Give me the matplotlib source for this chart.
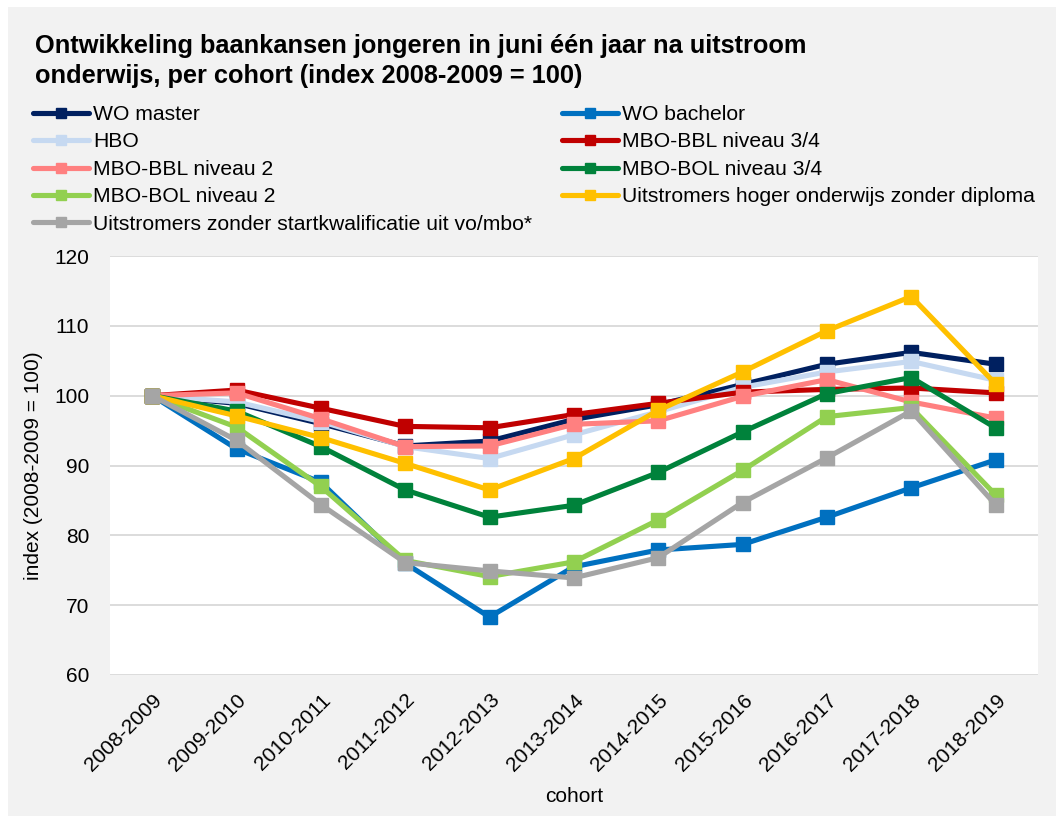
import numpy as np
import matplotlib.pyplot as plt
from matplotlib.lines import Line2D
from matplotlib.patches import Rectangle

cohorts = ['2008-2009', '2009-2010', '2010-2011', '2011-2012', '2012-2013', '2013-2014',
           '2014-2015', '2015-2016', '2016-2017', '2017-2018', '2018-2019']

wo_master = [100, 98.9, 96.0, 92.8, 93.5, 96.6, 98.7, 101.6, 104.5, 106.2, 104.5]
wo_bachelor = [100, 92.4, 87.6, 76.0, 68.3, 75.5, 77.9, 78.7, 82.6, 86.8, 90.8]
hbo = [100, 99.1, 96.3, 92.7, 91.0, 94.4, 97.7, 101.2, 103.4, 104.9, 102.2]
mbo_bbl_34 = [100, 100.8, 98.2, 95.6, 95.4, 97.3, 98.9, 100.5, 100.9, 101.1, 100.4]
mbo_bbl_2 = [100, 100.4, 96.7, 92.7, 92.8, 95.9, 96.4, 99.9, 102.3, 99.1, 96.8]
mbo_bol_34 = [100, 97.8, 92.7, 86.5, 82.6, 84.3, 89.0, 94.8, 100.3, 102.6, 95.4]
mbo_bol_2 = [100, 95.5, 87.0, 76.4, 74.1, 76.2, 82.2, 89.3, 97.0, 98.3, 85.8]
ho_zonder_diploma = [100, 97.1, 94.0, 90.3, 86.5, 91.0, 97.9, 103.4, 109.3, 114.2, 101.7]
zonder_startkwal = [100, 93.6, 84.4, 76.1, 74.9, 73.9, 76.8, 84.7, 91.1, 97.8, 84.4]

series = [
    ('WO master', wo_master, '#002060'),
    ('WO bachelor', wo_bachelor, '#0070C0'),
    ('HBO', hbo, '#C6D9F1'),
    ('MBO-BBL niveau 3/4', mbo_bbl_34, '#C00000'),
    ('MBO-BBL niveau 2', mbo_bbl_2, '#FF8080'),
    ('MBO-BOL niveau 3/4', mbo_bol_34, '#00823B'),
    ('MBO-BOL niveau 2', mbo_bol_2, '#92D050'),
    ('Uitstromers hoger onderwijs zonder diploma', ho_zonder_diploma, '#FFC000'),
    ('Uitstromers zonder startkwalificatie uit vo/mbo*', zonder_startkwal, '#A5A5A5'),
]

plt.rcParams['font.family'] = ['Liberation Sans', 'DejaVu Sans']

W, H = 1056, 816
fig = plt.figure(figsize=(W / 100, H / 100), dpi=100, facecolor='white')
fig.add_artist(Rectangle((8 / W, 0), 1, 1 - 7 / H, transform=fig.transFigure,
                         facecolor='#F2F2F2', edgecolor='none', zorder=-10))

ax = fig.add_axes([110 / W, 1 - 675 / H, 927.7 / W, 419 / H])
ax.set_facecolor('white')

x = np.arange(len(cohorts))
handles = {}
for name, vals, col in series:
    ax.plot(x, vals, color=col, lw=3.7, marker='s', ms=10, label=name,
            solid_joinstyle='round')
    handles[name] = Line2D([], [], color=col, lw=3.7, marker='s', ms=7,
                           solid_capstyle='round')

ax.set_xlim(-0.5, len(cohorts) - 0.5)
ax.set_ylim(60, 120)
ax.set_yticks(np.arange(60, 121, 10))
ax.grid(axis='y', color='#D9D9D9', lw=1.3)
ax.set_axisbelow(True)
for s in ax.spines.values():
    s.set_visible(False)

ax.set_xticks(x)
ax.set_xticklabels(cohorts, rotation=45, ha='right', rotation_mode='anchor')
ax.tick_params(axis='x', length=0, pad=11, labelsize=15)
ax.tick_params(axis='y', length=0, pad=15, labelsize=15)

ax.set_xlabel('cohort', fontsize=15)
ax.xaxis.label.set_va('center')
ax.xaxis.set_label_coords(0.5, -(797 - 675) / 419)
ax.set_ylabel('index (2008-2009 = 100)', fontsize=15)
ax.yaxis.label.set_va('center')
ax.yaxis.set_label_coords((34 - 110) / 927.7, 0.5)

fig.text(35 / W, 1 - 34 / H,
         'Ontwikkeling baankansen jongeren in juni één jaar na uitstroom\n'
         'onderwijs, per cohort (index 2008-2009 = 100)',
         fontsize=18.3, fontweight='bold', va='top', ha='left', linespacing=1.3)

# legend: row-wise order as in the picture -> column-wise for ncol=2
order = ['WO master', 'HBO', 'MBO-BBL niveau 2', 'MBO-BOL niveau 2',
         'Uitstromers zonder startkwalificatie uit vo/mbo*',
         'WO bachelor', 'MBO-BBL niveau 3/4', 'MBO-BOL niveau 3/4',
         'Uitstromers hoger onderwijs zonder diploma']
fig.legend([handles[n] for n in order], order, ncol=2, loc='upper left',
           bbox_to_anchor=(33 / W, 1 - 105 / H), frameon=False, fontsize=15.2,
           handlelength=2.66, handletextpad=0.19, columnspacing=1.42,
           labelspacing=0.40, borderpad=0, borderaxespad=0)

fig.savefig('out.png', dpi=100, facecolor=fig.get_facecolor())
